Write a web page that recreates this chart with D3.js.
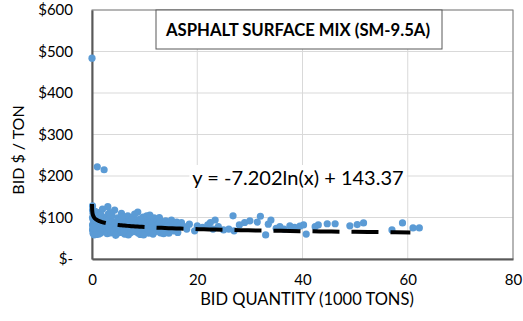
<!DOCTYPE html>
<html>
<head>
<meta charset="utf-8">
<script src="https://cdn.jsdelivr.net/npm/d3@7"></script>
<style>
  body { margin: 0; background: #fff; }
  svg { display: block; font-family: Lato, "Open Sans", sans-serif; }
</style>
</head>
<body>
<svg id="chart" width="523" height="321"></svg>
<script>
// bid quantity (1000 tons) and bid price ($/ton)
const bidQty = [
  0.0, 1.0, 2.3,
  0.1, 0.1, 0.2, 0.1, 0.2, 0.3, 0.1, 0.2, 0.1, 0.3, 0.2, 0.4, 0.5, 0.5, 0.6, 0.7,
  0.8, 0.9, 1.0, 1.1, 1.2, 1.3, 1.4, 1.5, 1.6, 1.8, 1.9, 2.0, 2.1, 2.2, 2.4, 2.5,
  2.6, 2.8, 2.9, 3.0, 3.1, 0.4, 0.6, 0.9, 1.3, 1.7, 2.2, 2.7, 0.3, 0.8, 1.5,
  3.2, 3.3, 3.5, 3.6, 3.8, 3.9, 4.0, 4.1, 4.3, 4.4, 4.6, 4.7, 4.9, 5.0, 5.2, 5.3,
  5.5, 5.6, 5.8, 5.9, 6.1, 6.2, 6.4, 6.5, 6.7, 6.8, 7.0, 7.1, 7.3, 7.4, 7.6, 7.7,
  7.9, 8.0, 8.2, 8.3, 8.5, 8.7, 8.8, 9.0, 9.1, 9.3, 9.4, 9.6, 9.7, 9.9, 10.0, 10.2,
  10.3, 10.5, 10.6, 10.8, 10.9, 11.1, 11.2, 11.4, 11.5, 11.7, 11.8, 12.0, 12.1, 12.3,
  12.4, 12.6, 12.7, 12.9, 13.0, 13.2, 13.3, 13.5, 13.7, 13.8, 14.0, 14.1, 14.3, 14.5,
  14.6, 14.8, 15.0, 15.1, 15.3, 15.5, 15.7, 15.9, 16.1, 16.3, 16.5, 16.8,
  4.5, 5.7, 6.9, 8.1, 9.2, 10.4, 11.6, 12.8, 3.4, 6.0, 7.5, 9.8, 11.0, 13.6,
  17.0, 17.5, 18.0, 18.5, 19.5, 20.0, 21.0, 22.0, 22.5, 23.0, 23.4, 24.0, 25.0, 26.0,
  26.8, 27.0, 28.0, 29.0, 30.0, 31.4, 32.0, 33.0, 33.5, 34.0, 35.0, 35.7, 36.5, 37.6,
  38.5, 39.5, 40.2, 40.7, 42.4, 43.0, 44.7, 46.2, 49.0, 50.4, 51.6, 57.0, 59.0, 61.0, 62.2
];
const bidPrice = [
  484, 222, 215,
  128, 118, 110, 100, 95, 88, 82, 76, 70, 65, 62, 105, 92, 80, 72, 68,
  98, 86, 75, 64, 112, 90, 80, 70, 62, 95, 84, 120, 74, 66, 100, 88,
  78, 70, 61, 126, 108, 58, 115, 104, 60, 107, 93, 83, 76, 59, 98,
  96, 72, 84, 63, 105, 90, 77, 68, 118, 86, 74, 61, 99, 82, 70, 93,
  64, 110, 78, 88, 72, 60, 97, 83, 69, 104, 76, 91, 63, 85, 71, 100,
  80, 66, 94, 74, 88, 113, 62, 79, 96, 70, 86, 65, 101, 77, 90, 68,
  84, 73, 97, 62, 81, 92, 70, 86, 76, 64, 99, 80, 72, 91, 67, 84,
  75, 95, 63, 79, 88, 71, 83, 66, 92, 76, 69, 86, 62, 80, 73, 94,
  78, 68, 85, 71, 89, 64, 77, 82,
  57, 102, 58, 108, 59, 104, 60, 100, 112, 65, 94, 58, 106, 61,
  88, 78, 72, 84, 68, 80, 76, 82, 88, 72, 94, 78, 70, 72,
  104, 68, 82, 88, 92, 89, 103, 58, 84, 94, 74, 78, 72, 80,
  76, 79, 82, 60, 78, 82, 85, 85, 80, 83, 87, 70, 87, 75, 75
];
// logarithmic trendline as printed on the chart (x in tons)
const trendA = -7.202;
const trendB = 143.37;
const trendRange = [0.0045, 60.5];
const xTicks = [0, 20, 40, 60, 80];
const yTicks = [0, 100, 200, 300, 400, 500, 600];
const chartTitle = "ASPHALT SURFACE MIX (SM-9.5A)";
const eqLabel = "y = -7.202ln(x) + 143.37";

const svg = d3.select("#chart");
const plotL = 92, plotR = 513, plotT = 10, plotB = 259;

const x = d3.scaleLinear().domain([0, 80]).range([plotL, plotR]);
const y = d3.scaleLinear().domain([0, 600]).range([plotB, plotT]);

// gridlines
svg.append("g").selectAll("line.h").data(yTicks.slice(1)).enter()
  .append("line")
  .attr("x1", plotL).attr("x2", plotR)
  .attr("y1", d => y(d)).attr("y2", d => y(d))
  .attr("stroke", "#d9d9d9").attr("stroke-width", 1);
svg.append("g").selectAll("line.v").data(xTicks.slice(1)).enter()
  .append("line")
  .attr("x1", d => x(d)).attr("x2", d => x(d))
  .attr("y1", plotT).attr("y2", plotB)
  .attr("stroke", "#d9d9d9").attr("stroke-width", 1);

// plot frame
svg.append("rect")
  .attr("x", plotL).attr("y", plotT)
  .attr("width", plotR - plotL).attr("height", plotB - plotT)
  .attr("fill", "none").attr("stroke", "#7f7f7f").attr("stroke-width", 1);

// axes
const yAxis = d3.axisLeft(y).tickValues(yTicks).tickSize(0).tickPadding(19)
  .tickFormat(d => d === 0 ? "$-" : "$" + d);
const gy = svg.append("g").attr("transform", `translate(${plotL},0)`).call(yAxis);
const xAxis = d3.axisBottom(x).tickValues(xTicks).tickSize(0).tickPadding(15);
const gx = svg.append("g").attr("transform", `translate(0,${plotB})`).call(xAxis);
[gx, gy].forEach(g => {
  g.select(".domain").attr("stroke", "#595959").attr("stroke-width", 2);
  g.selectAll("text").attr("font-family", "Lato, sans-serif")
    .attr("font-size", 15).attr("fill", "#000");
});

// points
const pts = bidQty.map((q, i) => ({ q: q, p: bidPrice[i] }));
svg.append("g").selectAll("circle").data(pts).enter()
  .append("circle")
  .attr("cx", d => x(d.q)).attr("cy", d => y(d.p))
  .attr("r", 3.6)
  .attr("fill", "#5b9bd5");

// trendline
const tq = d3.range(0, 201).map(i =>
  Math.exp(Math.log(trendRange[0]) + (Math.log(trendRange[1]) - Math.log(trendRange[0])) * i / 200));
const line = d3.line()
  .x(q => x(q))
  .y(q => y(trendA * Math.log(q * 1000) + trendB));
svg.append("path")
  .datum(tq)
  .attr("d", line)
  .attr("fill", "none")
  .attr("stroke", "#000")
  .attr("stroke-width", 4)
  .attr("stroke-dasharray", "27,12");

// equation label
const eqBg = svg.append("rect").attr("fill", "#fff");
const eq = svg.append("text")
  .attr("x", 298).attr("y", 185)
  .attr("text-anchor", "middle")
  .attr("font-size", 20)
  .text(eqLabel);
const eb = eq.node().getBBox();
eqBg.attr("x", eb.x - 3).attr("y", eb.y).attr("width", eb.width + 6).attr("height", eb.height);

// title box
svg.append("rect")
  .attr("x", 156).attr("y", plotT)
  .attr("width", 286).attr("height", 39)
  .attr("fill", "#fff").attr("stroke", "#595959").attr("stroke-width", 1);
svg.append("text")
  .attr("x", 298).attr("y", 36)
  .attr("text-anchor", "middle")
  .attr("font-size", 16.7).attr("font-weight", "bold")
  .text(chartTitle);

// axis titles
svg.append("text")
  .attr("x", 307).attr("y", 305)
  .attr("text-anchor", "middle")
  .attr("font-size", 16.5)
  .text("BID QUANTITY (1000 TONS)");
svg.append("text")
  .attr("transform", "translate(24,150) rotate(-90)")
  .attr("text-anchor", "middle")
  .attr("font-size", 16)
  .text("BID $ / TON");
</script>
</body>
</html>
